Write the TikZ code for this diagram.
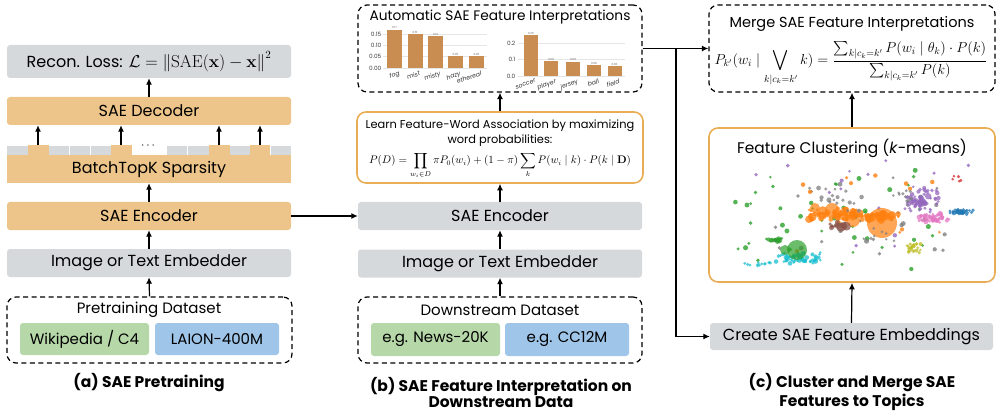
\documentclass[tikz,border=0pt]{standalone}
\usepackage{amsmath}
\usepackage[no-math]{fontspec}
\setmainfont{Poppins}
\usetikzlibrary{arrows.meta}
\definecolor{sorange}{HTML}{EDC58A}
\definecolor{sgray}{HTML}{D5D9DC}
\definecolor{sgreen}{HTML}{B6D7A8}
\definecolor{sblue}{HTML}{9FC5E8}
\definecolor{oborder}{HTML}{E9AD55}
\definecolor{barc}{HTML}{C98D52}
\definecolor{tblue}{HTML}{1F77B4}
\definecolor{torange}{HTML}{FF7F0E}
\definecolor{tgreen}{HTML}{2CA02C}
\definecolor{tred}{HTML}{D62728}
\definecolor{tpurple}{HTML}{9467BD}
\definecolor{tbrown}{HTML}{8C564B}
\definecolor{tpink}{HTML}{E377C2}
\definecolor{tgray}{HTML}{7F7F7F}
\definecolor{tolive}{HTML}{BCBD22}
\definecolor{tcyan}{HTML}{17BECF}
\newcommand\fs[1]{\fontsize{#1}{#1}\selectfont}
\newcommand\myclus[7]{%
  \foreach \ii in {1,...,#6}{%
    \pgfmathsetmacro\px{#2+#4*(rand+rand)/2}%
    \pgfmathsetmacro\py{#3+#5*(rand+rand)/2}%
    \pgfmathsetmacro\pr{1.4+(#7-1.4)*rnd*rnd}%
    \fill[#1, fill opacity=0.75] (\px,\py) circle[radius=\pr];
  }}
\newcommand\myscat[7]{%
  \foreach \ii in {1,...,#6}{%
    \pgfmathsetmacro\px{#2+#4*rand}%
    \pgfmathsetmacro\py{#3+#5*rand}%
    \pgfmathsetmacro\pr{1.4+(#7-1.4)*rnd}%
    \fill[#1, fill opacity=0.8] (\px,\py) circle[radius=\pr];
  }}
\begin{document}
\begin{tikzpicture}[x=1pt,y=-1pt,
  box/.style={rounded corners=3pt, minimum height=28pt, inner sep=0pt, font=\fs{16}},
  obox/.style={box, fill=sorange},
  gbox/.style={box, fill=sgray},
  dbox/.style={draw, dash pattern=on 5pt off 3.5pt, line width=1.2pt, rounded corners=9pt, inner sep=0pt},
  lbox/.style={draw=oborder, line width=1.6pt, rounded corners=9pt, inner sep=0pt},
  arr/.style={-{Latex[length=6.5pt,width=6pt]}, line width=1.2pt},
  captxt/.style={font=\bfseries\fs{15.5}, align=center},
  txt/.style={inner sep=0pt},
  ticklbl/.style={font=\fs{5.8}, anchor=east, inner sep=0.5pt, text=black!75},
  vallbl/.style={font=\fs{2.8}, anchor=south, inner sep=0.6pt, text=black!60},
  wlab/.style={font=\itshape\fs{6.2}, rotate=20, anchor=north east, inner sep=0pt, text=black!80}
  ]
\useasboundingbox (0,0) rectangle (1002,417);

% ---------------- panel (a) ----------------
\node[gbox, minimum width=284, minimum height=33] (recon) at (149,61.5) {Recon. Loss: $\mathcal{L}=\left\|\mathrm{SAE}(\mathbf{x})-\mathbf{x}\right\|^2$};
\node[obox, minimum width=284] (deca) at (149,111) {SAE Decoder};
% sparse row
\foreach \a/\b in {7/27.5,49/69,70/90,91/110.5,167/187,188/208.5,229.5/249.5,270.5/291}
  \fill[sgray] (\a,146) rectangle (\b,155.5);
\foreach \a/\b in {28/48.5,111/131.5,209/229.5,250/270}
  \fill[sorange] (\a,145) rectangle (\b,156);
\node[txt, font=\fs{12}] (dots) at (149,146) {$\cdots$};
\node[fill=sorange, minimum width=284, minimum height=28, inner sep=0pt, font=\fs{16}] (topk) at (149,169) {BatchTopK Sparsity};
\foreach \x [count=\k] in {38,121,219,260}
  \coordinate (sp\k) at (\x,145);
\foreach \k in {1,...,4}
  \draw[arr] (sp\k) -- (sp\k |- deca.south);
\node[obox, minimum width=284] (enca) at (149,216) {SAE Encoder};
\node[gbox, minimum width=284] (emba) at (149,263) {Image or Text Embedder};
\node[dbox, minimum width=285, minimum height=66] (dsa) at (149.5,330) {};
\node[txt, font=\fs{15}] (dsat) at (149,310) {Pretraining Dataset};
\node[box, fill=sgreen, minimum width=129, minimum height=32, font=\fs{15}] (wiki) at (84.5,339) {Wikipedia / C4};
\node[box, fill=sblue, minimum width=124, minimum height=32, font=\fs{15}] (laion) at (217,339) {LAION-400M};
\node[captxt] (capa) at (149,383) {(a) SAE Pretraining};
\draw[arr] (deca.north) -- (recon.south);
\draw[arr] (enca.north) -- (topk.south);
\draw[arr] (emba.north) -- (enca.south);
\draw[arr] (dsa.north) -- (emba.south);

% ---------------- panel (b) ----------------
\node[dbox, minimum width=284, minimum height=87] (auto) at (500,48.5) {};
\node[txt, font=\fs{13.75}] (autot) at (500,17) {Automatic SAE Feature Interpretations};
% left chart
\foreach \v in {0,0.05,0.10,0.15}
  \draw[black!10, line width=0.4pt] (383,68-226*\v) -- (487,68-226*\v);
\foreach \v/\l in {0/0.00,0.05/0.05,0.10/0.10,0.15/0.15}
  \node[ticklbl] at (382,68-226*\v) {\l};
\foreach \c/\v/\w in {394.5/0.17/fog,415/0.15/mist,435.5/0.14/misty,455.5/0.053/hazy,476.5/0.052/ethereal}{
  \fill[barc] (\c-7.5,68) rectangle (\c+7.5,68-226*\v);
  \node[wlab] at (\c+4,70.5) {\w};}
\foreach \c/\v/\l in {394.5/0.17/0.17,415/0.15/0.15,435.5/0.14/0.14,455.5/0.053/0.05,476.5/0.052/0.05}
  \node[vallbl] at (\c,68-226*\v) {\l};
% right chart
\foreach \v in {0,0.1,0.2}
  \draw[black!10, line width=0.4pt] (518,76-163*\v) -- (625,76-163*\v);
\foreach \v/\l in {0/0.0,0.1/0.1,0.2/0.2}
  \node[ticklbl] at (516,76-163*\v) {\l};
\foreach \c/\v/\w in {531/0.25/soccer,551/0.09/player,573/0.088/jersey,594/0.065/ball,614.5/0.059/field}{
  \fill[barc] (\c-7,76) rectangle (\c+7,76-163*\v);
  \node[wlab] at (\c+4,78.5) {\w};}
\foreach \c/\v/\l in {531/0.25/0.25,551/0.09/0.09,573/0.088/0.09,594/0.065/0.06,614.5/0.059/0.06}
  \node[vallbl] at (\c,76-163*\v) {\l};

\node[lbox, minimum width=286, minimum height=71] (learn) at (500,147.5) {};
\node[txt, font=\fs{11.4}] (learnt1) at (500,126) {Learn Feature-Word Association by maximizing};
\node[txt, font=\fs{11.4}] (learnt2) at (500,140.5) {word probabilities:};
\node[txt, font=\fs{10.5}] (learnf) at (500,165.5) {$\displaystyle P(D)=\prod_{w_i\in D}\pi P_0(w_i)+(1-\pi)\sum_k P(w_i\mid k)\cdot P(k\mid \mathbf{D})$};
\node[gbox, minimum width=284] (encb) at (500,216) {SAE Encoder};
\node[gbox, minimum width=284] (embb) at (500,263.5) {Image or Text Embedder};
\node[dbox, minimum width=284, minimum height=66] (dsb) at (500,330) {};
\node[txt, font=\fs{15}] (dsbt) at (500,310) {Downstream Dataset};
\node[box, fill=sgreen, minimum width=129, minimum height=33, font=\fs{15}] (news) at (435.5,339.5) {e.g. News-20K};
\node[box, fill=sblue, minimum width=124, minimum height=33, font=\fs{15}] (cc) at (567,339.5) {e.g. CC12M};
\node[captxt] (capb) at (501,392.5) {(b) SAE Feature Interpretation on\\[1pt]Downstream Data};
\draw[arr] (learn.north) -- (auto.south);
\draw[arr] (encb.north) -- (learn.south);
\draw[arr] (embb.north) -- (encb.south);
\draw[arr] (dsb.north) -- (embb.south);
\draw[arr] (enca.east) -- (encb.west);

% ---------------- panel (c) ----------------
\node[dbox, minimum width=286, minimum height=87] (merge) at (852,48.5) {};
\node[txt, font=\fs{14.5}] (merget) at (852,24) {Merge SAE Feature Interpretations};
\node[txt, font=\fs{14}] (mergef) at (851,64) {$\displaystyle P_{k'}(w_i\mid \bigvee_{k|c_k=k'} k)=\frac{\sum_{k|c_k=k'}P(w_i\mid\theta_k)\cdot P(k)}{\sum_{k|c_k=k'}P(k)}$};
\node[lbox, minimum width=286, minimum height=154] (clust) at (852,205) {};
\node[txt, font=\fs{15.4}] (clustt) at (852,148) {Feature Clustering (\textit{k}-means)};
\node[gbox, minimum width=283, minimum height=27] (create) at (851.5,336.5) {Create SAE Feature Embeddings};
\node[captxt] (capc) at (852,392) {(c) Cluster and Merge SAE\\[1pt]Features to Topics};
\draw[arr] (clust.north) -- (merge.south);
\draw[arr] (create.north) -- (clust.south);
\coordinate (br) at (676,48.5);
\draw[line width=1.2pt] (auto.east) -- (br);
\draw[arr] (br) -- (merge.west);
\draw[arr] (br) |- (create.west);

% scatter
\pgfmathsetseed{7}
\myscat{tgreen}{835}{220}{105}{50}{45}{2.6}
\myscat{tgray}{860}{215}{90}{40}{25}{2.6}
\myscat{tpurple}{860}{205}{110}{45}{18}{2.2}
\myscat{torange}{860}{215}{80}{40}{18}{2.4}
\myclus{tgreen}{775}{240}{15}{2}{18}{3.2}
\myclus{tcyan}{800}{258}{28}{7}{60}{3}
\myclus{tcyan}{760}{265}{20}{3}{12}{2}
\fill[tgreen, fill opacity=0.7] (797,250) circle[radius=10];
\fill[tgreen, fill opacity=0.7] (785,250) circle[radius=5];
\myclus{torange}{850}{215}{55}{8}{90}{5}
\fill[torange, fill opacity=0.7] (882,223) circle[radius=15];
\fill[torange, fill opacity=0.7] (832,210) circle[radius=7];
\fill[torange, fill opacity=0.7] (815,208) circle[radius=5];
\fill[torange, fill opacity=0.7] (853,220) circle[radius=7];
\myclus{tbrown}{840}{225}{12}{4}{25}{5}
\myclus{tgray}{835}{200}{40}{15}{18}{3}
\myclus{tpurple}{920}{200}{20}{14}{70}{3.5}
\myclus{tgray}{905}{198}{15}{10}{12}{2.5}
\myclus{tpink}{935}{218}{18}{6}{50}{3}
\myclus{tblue}{962}{212}{14}{3}{40}{2.6}
\myclus{tolive}{913}{248}{9}{6}{22}{3}
\myclus{tred}{958}{178}{8}{6}{5}{2}
\myclus{tgray}{880}{235}{25}{10}{8}{2.5}
\end{tikzpicture}
\end{document}
